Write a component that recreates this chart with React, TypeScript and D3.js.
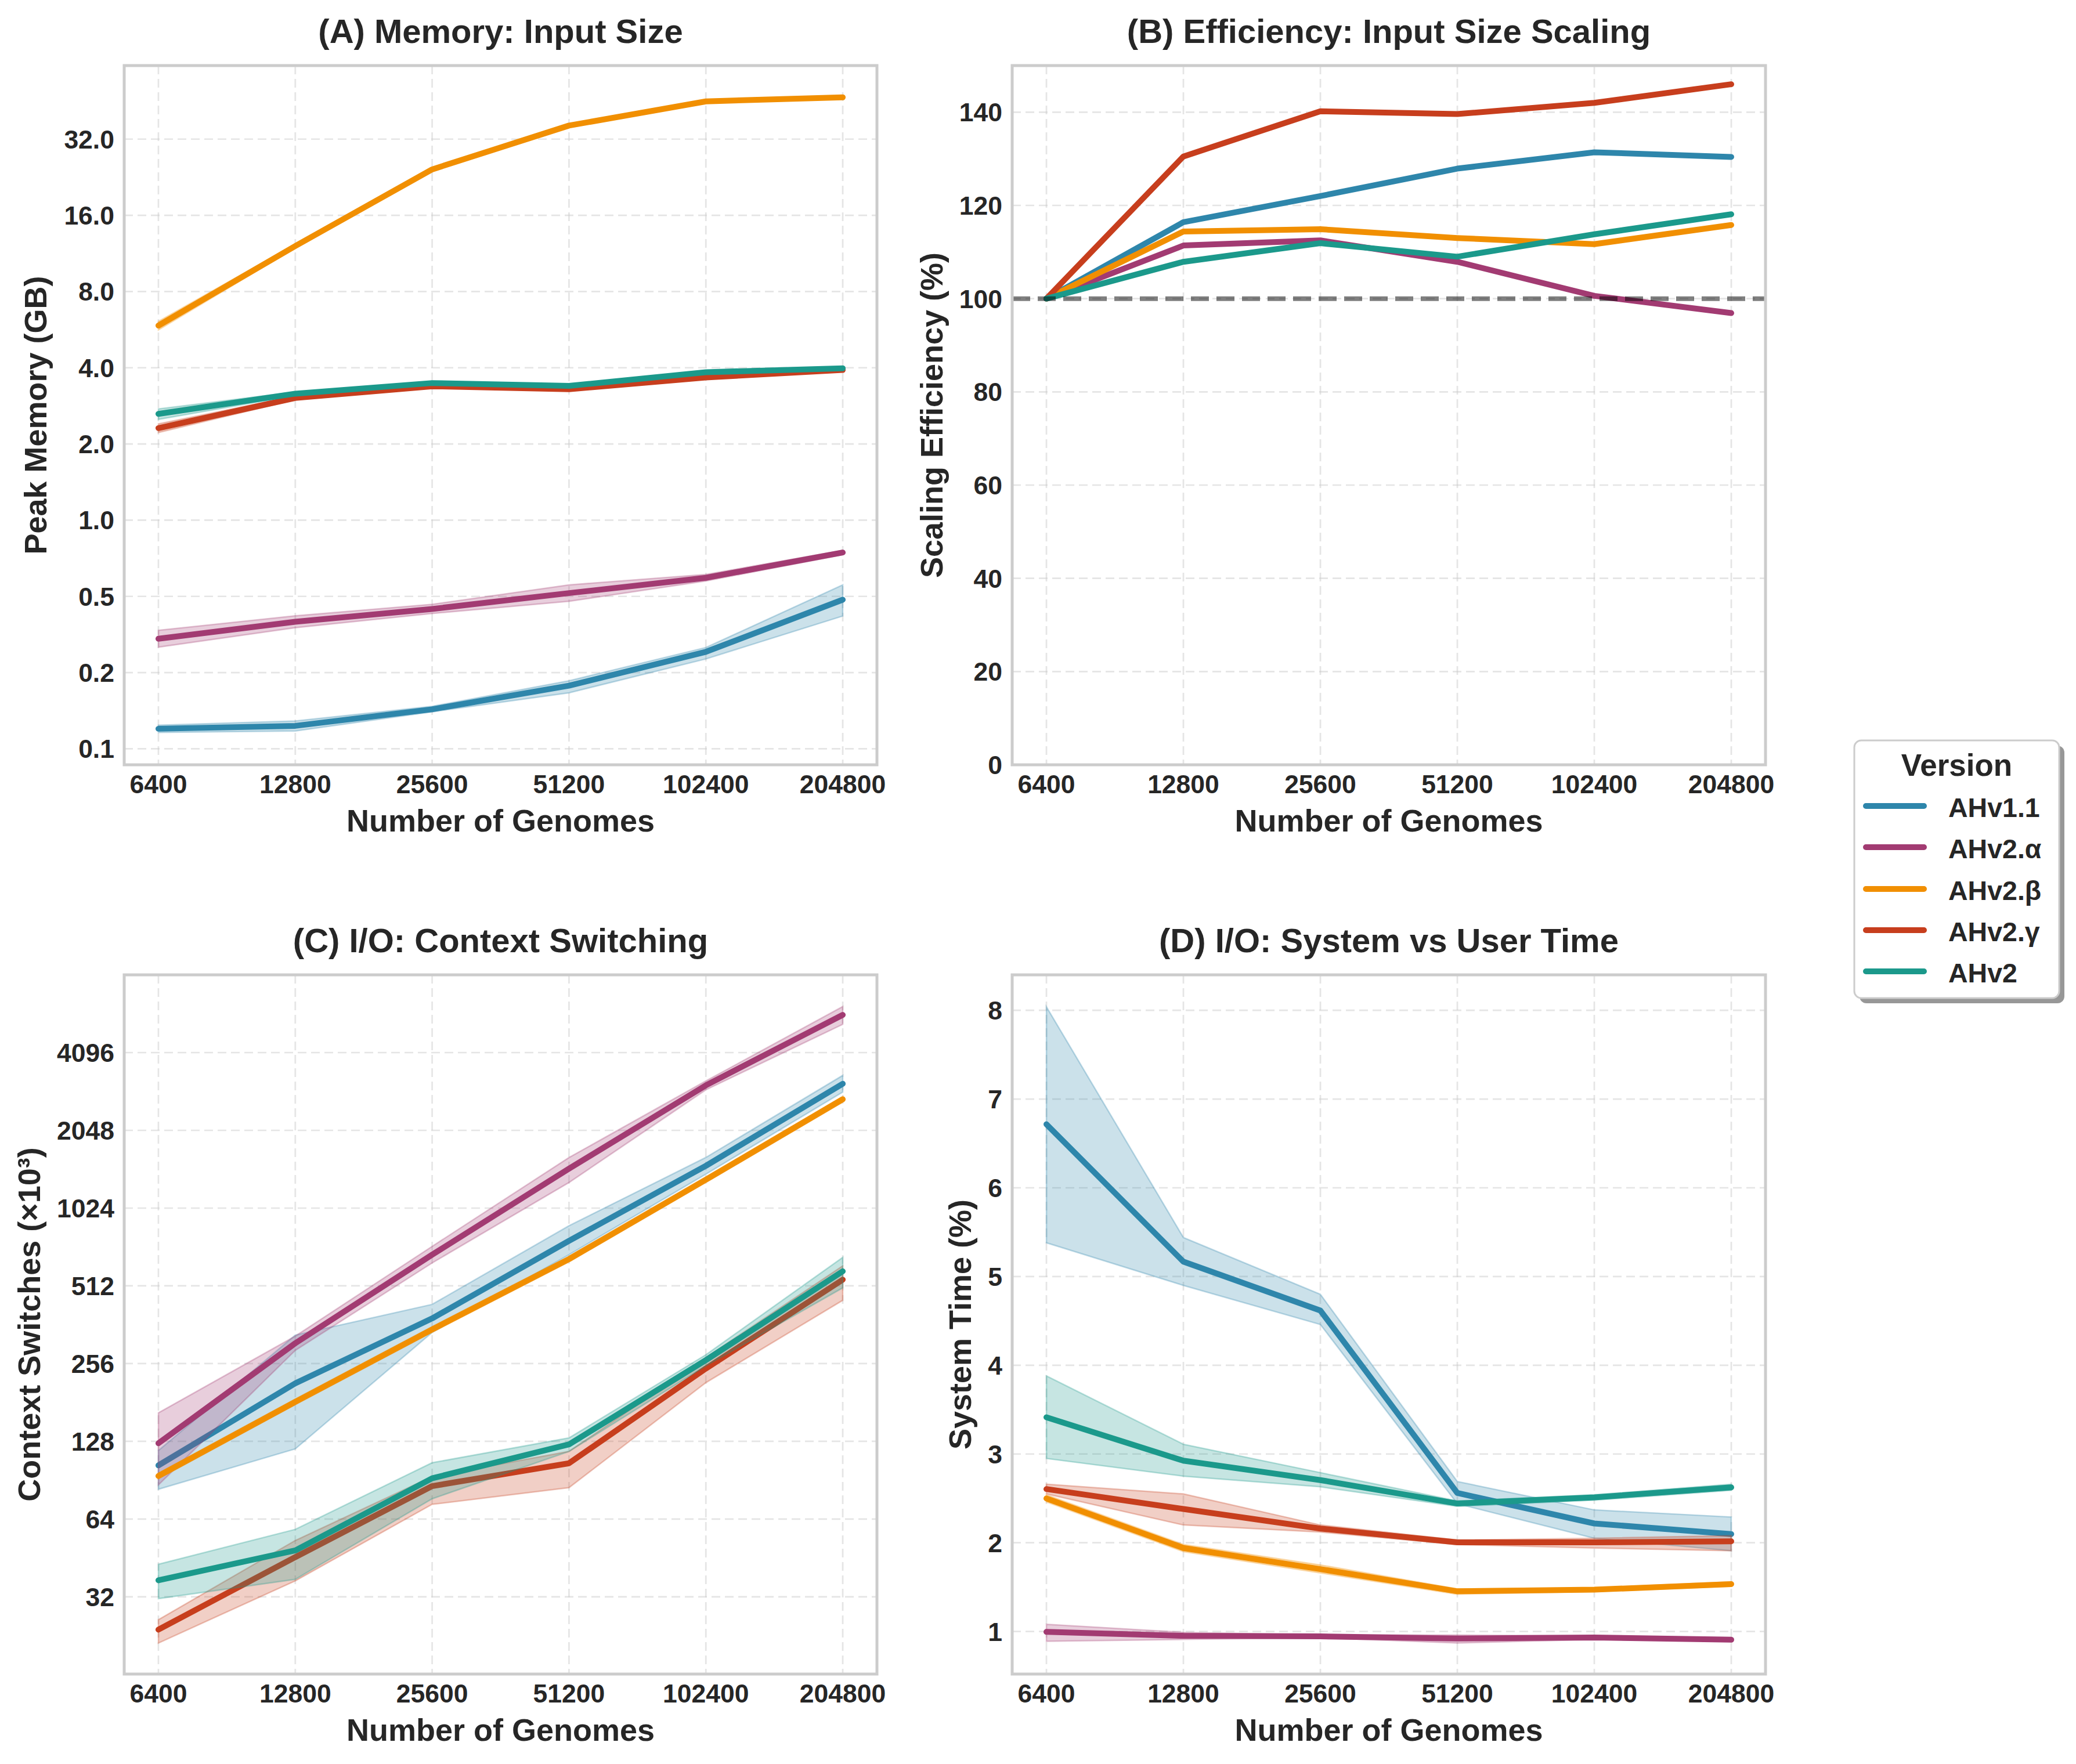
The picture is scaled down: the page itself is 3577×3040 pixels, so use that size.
import React from 'react';
import * as d3 from 'd3';

// ---------------- data ----------------
const genomes = [6400, 12800, 25600, 51200, 102400, 204800];
const genomeLabels = ['6400', '12800', '25600', '51200', '102400', '204800'];
const versions = ['AHv1.1', 'AHv2.α', 'AHv2.β', 'AHv2.γ', 'AHv2'];
const colors = ['#2E86AB', '#A23B72', '#F18F01', '#C73E1D', '#1B998B'];

// (A) peak memory, GB  [series][genome]
const memoryMean = [
  [0.150, 0.154, 0.179, 0.222, 0.302, 0.485],
  [0.340, 0.397, 0.446, 0.515, 0.592, 0.745],
  [5.87, 12.1, 24.3, 36.2, 45.1, 46.8],
  [2.31, 3.04, 3.38, 3.29, 3.66, 3.92],
  [2.63, 3.16, 3.48, 3.39, 3.84, 3.98],
];
const memoryLow = [
  [0.145, 0.147, 0.175, 0.208, 0.283, 0.418],
  [0.315, 0.376, 0.428, 0.478, 0.575, 0.730],
  [5.64, 11.9, 24.0, 35.7, 44.5, 46.2],
  [2.22, 2.99, 3.33, 3.24, 3.61, 3.87],
  [2.50, 3.11, 3.43, 3.34, 3.79, 3.93],
];
const memoryHigh = [
  [0.155, 0.161, 0.184, 0.232, 0.314, 0.555],
  [0.367, 0.419, 0.465, 0.555, 0.610, 0.760],
  [6.10, 12.3, 24.6, 36.7, 45.7, 47.4],
  [2.40, 3.09, 3.43, 3.34, 3.71, 3.97],
  [2.75, 3.21, 3.53, 3.44, 3.89, 4.03],
];
const memoryTicks = [0.125, 0.25, 0.5, 1, 2, 4, 8, 16, 32];
const memoryTickLabels = ['0.1', '0.2', '0.5', '1.0', '2.0', '4.0', '8.0', '16.0', '32.0'];

// (B) scaling efficiency, %
const efficiencyMean = [
  [100, 116.4, 122.0, 127.9, 131.4, 130.4],
  [100, 111.4, 112.5, 107.9, 100.6, 96.9],
  [100, 114.4, 114.9, 113.0, 111.7, 115.8],
  [100, 130.5, 140.2, 139.6, 142.0, 146.0],
  [100, 107.9, 111.9, 109.0, 113.8, 118.1],
];
const efficiencyTicks = [0, 20, 40, 60, 80, 100, 120, 140];
const efficiencyTickLabels = ['0', '20', '40', '60', '80', '100', '120', '140'];
const efficiencyReference = 100;

// (C) context switches, x10^3
const ctxMean = [
  [103.3, 214.7, 383, 765, 1493, 3103],
  [125.8, 307, 676, 1456, 3059, 5733],
  [94, 182, 347, 650, 1319, 2702],
  [23.9, 45.6, 85.9, 105.3, 245, 541],
  [37.1, 48.4, 92.1, 124.6, 264, 583],
];
const ctxLow = [
  [83.5, 119.7, 338, 676, 1386, 2881],
  [86.8, 288, 628, 1286, 2940, 5270],
  [91.7, 177.5, 338.5, 634, 1287, 2636],
  [21.2, 36.9, 73, 84.7, 216, 450],
  [31.5, 37.4, 76.7, 117, 251, 503],
];
const ctxHigh = [
  [118, 330, 434, 875, 1608, 3342],
  [165, 327, 728, 1607, 3180, 6175],
  [96.4, 186.6, 355.7, 666, 1352, 2770],
  [26.1, 52.9, 93.5, 117, 270, 612],
  [42.8, 58.4, 105.8, 132, 277, 660],
];
const ctxTicks = [32, 64, 128, 256, 512, 1024, 2048, 4096];
const ctxTickLabels = ['32', '64', '128', '256', '512', '1024', '2048', '4096'];

// (D) system time, %
const sysMean = [
  [6.716, 5.168, 4.617, 2.561, 2.217, 2.098],
  [0.995, 0.951, 0.945, 0.920, 0.932, 0.907],
  [2.499, 1.941, 1.703, 1.453, 1.471, 1.534],
  [2.605, 2.380, 2.160, 2.004, 2.004, 2.016],
  [3.414, 2.925, 2.706, 2.442, 2.511, 2.624],
];
const sysLow = [
  [5.38, 4.90, 4.46, 2.44, 2.05, 1.91],
  [0.89, 0.91, 0.93, 0.87, 0.91, 0.89],
  [2.46, 1.90, 1.66, 1.42, 1.45, 1.51],
  [2.55, 2.20, 2.12, 1.98, 1.94, 1.91],
  [2.95, 2.75, 2.63, 2.41, 2.48, 2.59],
];
const sysHigh = [
  [8.04, 5.44, 4.80, 2.69, 2.37, 2.29],
  [1.08, 0.99, 0.96, 0.96, 0.95, 0.93],
  [2.54, 1.98, 1.75, 1.48, 1.49, 1.56],
  [2.66, 2.55, 2.20, 2.03, 2.05, 2.08],
  [3.88, 3.11, 2.79, 2.47, 2.54, 2.66],
];
const sysTicks = [1, 2, 3, 4, 5, 6, 7, 8];
const sysTickLabels = ['1', '2', '3', '4', '5', '6', '7', '8'];

// ---------------- drawing ----------------
const FONT = '"Liberation Sans", Arial, "DejaVu Sans", sans-serif';
const TEXT = '#262626';
const TICK_FS = 44.5;
const LABEL_FS = 54;

type PanelProps = {
  left: number; top: number; right: number; bottom: number;
  title: string; ylabel: string; ylabelX: number;
  yScale: (v: number) => number;
  yTicks: number[]; yTickLabels: string[];
  mean: number[][]; low?: number[][]; high?: number[][];
  refValue?: number;
};

function Panel(p: PanelProps) {
  const { left, top, right, bottom, yScale } = p;
  const x = d3.scaleLog().base(2)
    .domain([genomes[0] / Math.pow(2, 0.25), genomes[genomes.length - 1] * Math.pow(2, 0.25)])
    .range([left, right]);
  const idx = genomes.map((_, i) => i);
  const cx = (left + right) / 2;
  const cy = (top + bottom) / 2;
  const clipId = `clip-${Math.round(left)}-${Math.round(top)}`;
  return (
    <g>
      <defs>
        <clipPath id={clipId}>
          <rect x={left} y={top} width={right - left} height={bottom - top} />
        </clipPath>
      </defs>
      <rect x={left} y={top} width={right - left} height={bottom - top} fill="#ffffff" />
      {/* grid */}
      {genomes.map((g, i) => (
        <line key={'gx' + i} x1={x(g)} x2={x(g)} y1={top} y2={bottom}
          stroke="#cccccc" strokeOpacity={0.5} strokeWidth={2.7} strokeDasharray="15 8" />
      ))}
      {p.yTicks.map((t, i) => (
        <line key={'gy' + i} x1={left} x2={right} y1={yScale(t)} y2={yScale(t)}
          stroke="#cccccc" strokeOpacity={0.5} strokeWidth={2.7} strokeDasharray="15 8" />
      ))}
      <g clipPath={`url(#${clipId})`}>
        {p.mean.map((m, s) => {
          const line = d3.line<number>().x(i => x(genomes[i])).y(i => yScale(m[i]));
          let band: string | null = null;
          if (p.low && p.high) {
            const lo = p.low[s], hi = p.high[s];
            band = d3.area<number>().x(i => x(genomes[i])).y0(i => yScale(lo[i])).y1(i => yScale(hi[i]))(idx);
          }
          return (
            <g key={'s' + s}>
              {band && (
                <path d={band} fill={colors[s]} fillOpacity={0.25}
                  stroke={colors[s]} strokeOpacity={0.3} strokeWidth={2.5} />
              )}
              <path d={line(idx) || ''} fill="none" stroke={colors[s]} strokeWidth={10}
                strokeLinecap="round" strokeLinejoin="round" />
            </g>
          );
        })}
        {p.refValue !== undefined && (
          <line x1={left} x2={right} y1={yScale(p.refValue)} y2={yScale(p.refValue)}
            stroke="#000000" strokeOpacity={0.5} strokeWidth={8} strokeDasharray="31 13" />
        )}
      </g>
      {/* spines */}
      <rect x={left} y={top} width={right - left} height={bottom - top} fill="none"
        stroke="#cccccc" strokeWidth={5} />
      {/* x tick labels */}
      {genomes.map((g, i) => (
        <text key={'xt' + i} x={x(g)} y={bottom + 49} textAnchor="middle"
          fontFamily={FONT} fontWeight="bold" fontSize={TICK_FS} fill={TEXT}>{genomeLabels[i]}</text>
      ))}
      {/* y tick labels */}
      {p.yTicks.map((t, i) => (
        <text key={'yt' + i} x={left - 17} y={yScale(t) + 16} textAnchor="end"
          fontFamily={FONT} fontWeight="bold" fontSize={TICK_FS} fill={TEXT}>{p.yTickLabels[i]}</text>
      ))}
      {/* title */}
      <text x={cx} y={top - 39} textAnchor="middle" fontFamily={FONT} fontWeight="bold"
        fontSize={58} fill={TEXT}>{p.title}</text>
      {/* x label */}
      <text x={cx} y={bottom + 115} textAnchor="middle" fontFamily={FONT} fontWeight="bold"
        fontSize={LABEL_FS} fill={TEXT}>Number of Genomes</text>
      {/* y label */}
      <text transform={`translate(${p.ylabelX},${cy}) rotate(-90)`} textAnchor="middle"
        fontFamily={FONT} fontWeight="bold" fontSize={LABEL_FS} fill={TEXT}>{p.ylabel}</text>
    </g>
  );
}

function Legend() {
  const left = 3195, top = 1276, w = 353, h = 444;
  const rowY = [1389, 1460, 1532, 1603, 1674];
  return (
    <g>
      <rect x={left + 9} y={top + 9} width={w} height={h} rx={12} fill="#8c8c8c" fillOpacity={0.9} />
      <rect x={left} y={top} width={w} height={h} rx={12} fill="#ffffff" stroke="#cccccc" strokeWidth={3} />
      <text x={left + w / 2} y={1337} textAnchor="middle" fontFamily={FONT} fontWeight="bold"
        fontSize={53} fill={TEXT}>Version</text>
      {versions.map((v, i) => (
        <g key={v}>
          <line x1={3215} x2={3315} y1={rowY[i]} y2={rowY[i]} stroke={colors[i]} strokeWidth={10}
            strokeLinecap="round" />
          <text x={3357} y={rowY[i] + 19} fontFamily={FONT} fontWeight="bold" fontSize={46.5}
            fill={TEXT}>{v}</text>
        </g>
      ))}
    </g>
  );
}

export default function App() {
  const W = 3577, H = 3040;
  const A = { left: 214, top: 113, right: 1511, bottom: 1318 };
  const B = { left: 1744, top: 113, right: 3042, bottom: 1318 };
  const C = { left: 214, top: 1680, right: 1511, bottom: 2885 };
  const D = { left: 1744, top: 1680, right: 3042, bottom: 2885 };

  const yA = d3.scaleLog().base(2).domain([Math.pow(2, -3.21), Math.pow(2, 5.965)]).range([A.bottom, A.top]);
  const yB = d3.scaleLinear().domain([0, 150]).range([B.bottom, B.top]);
  const yC = d3.scaleLog().base(2).domain([Math.pow(2, 4.007), Math.pow(2, 13.0)]).range([C.bottom, C.top]);
  const yD = d3.scaleLinear().domain([0.52, 8.40]).range([D.bottom, D.top]);

  return (
    <svg width={W} height={H} viewBox={`0 0 ${W} ${H}`}
      style={{ position: 'absolute', left: 0, top: 0, display: 'block', background: '#ffffff' }}>
      <rect x={0} y={0} width={W} height={H} fill="#ffffff" />
      <Panel {...A} title="(A) Memory: Input Size" ylabel="Peak Memory (GB)" ylabelX={80}
        yScale={yA} yTicks={memoryTicks} yTickLabels={memoryTickLabels}
        mean={memoryMean} low={memoryLow} high={memoryHigh} />
      <Panel {...B} title="(B) Efficiency: Input Size Scaling" ylabel="Scaling Efficiency (%)" ylabelX={1624}
        yScale={yB} yTicks={efficiencyTicks} yTickLabels={efficiencyTickLabels}
        mean={efficiencyMean} refValue={efficiencyReference} />
      <Panel {...C} title="(C) I/O: Context Switching" ylabel="Context Switches (×10³)" ylabelX={69}
        yScale={yC} yTicks={ctxTicks} yTickLabels={ctxTickLabels}
        mean={ctxMean} low={ctxLow} high={ctxHigh} />
      <Panel {...D} title="(D) I/O: System vs User Time" ylabel="System Time (%)" ylabelX={1673}
        yScale={yD} yTicks={sysTicks} yTickLabels={sysTickLabels}
        mean={sysMean} low={sysLow} high={sysHigh} />
      <Legend />
    </svg>
  );
}
